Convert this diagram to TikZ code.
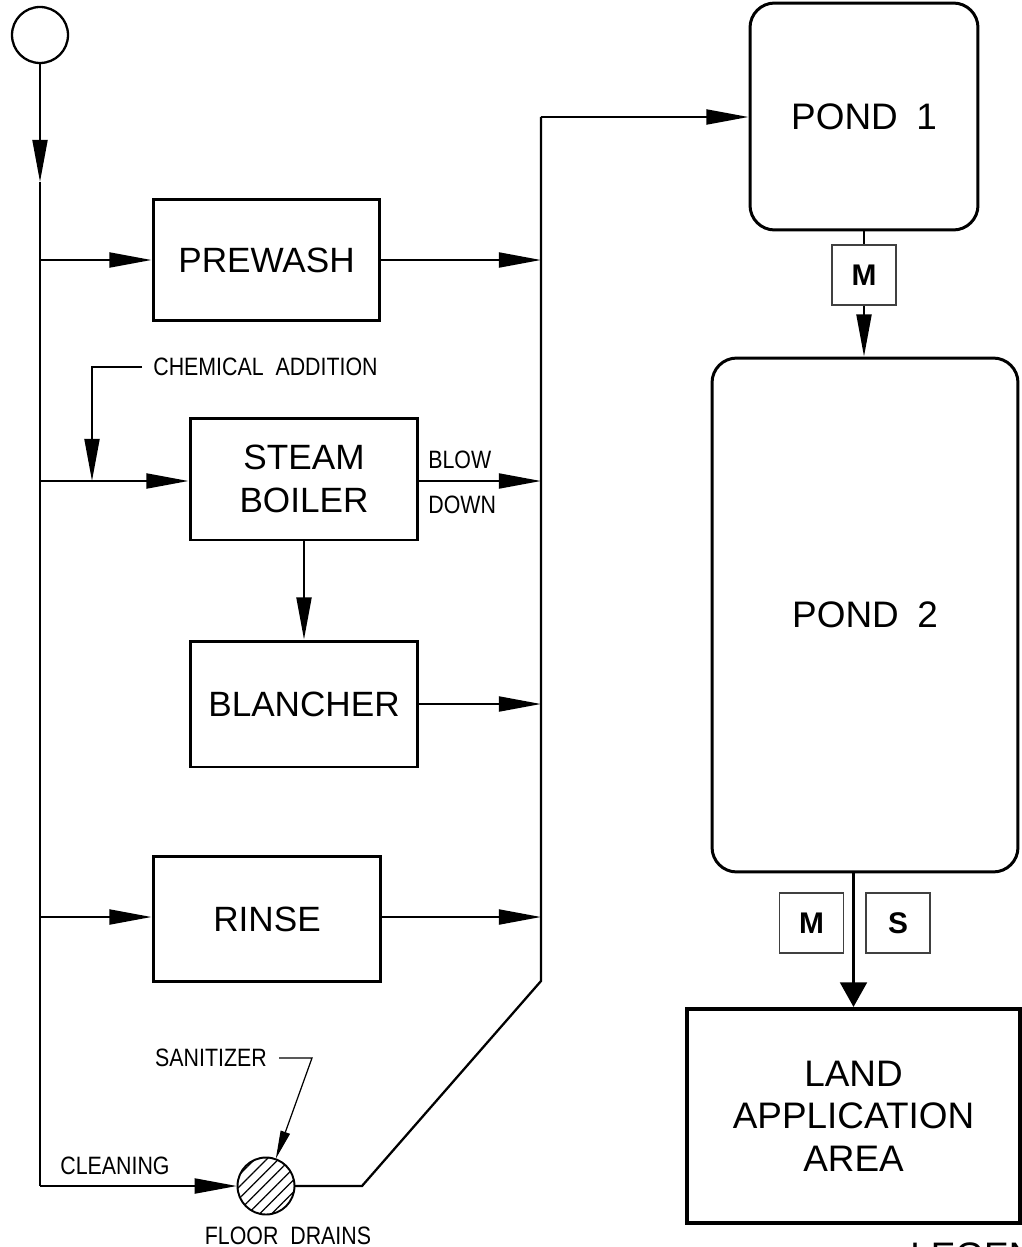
\documentclass[tikz,border=0pt]{standalone}
\usepackage{fontspec}
\setmainfont{Liberation Sans}
\newfontfamily\cadfont[FakeStretch=0.85]{Liberation Sans}
\usetikzlibrary{arrows.meta,patterns.meta,positioning}

\begin{document}
\begin{tikzpicture}[x=0.02cm,y=-0.02cm,
    flow/.style={line width=1.3pt},
    tip/.style={-{Triangle[length=24pt,width=8.5pt]}},
    unit/.style={draw,line width=1.7pt,minimum width=4.56cm,minimum height=2.44cm,
      align=center,font=\fontsize{20}{24.5}\selectfont},
    pond/.style={draw,line width=1.7pt,rounded corners=14pt,font=\fontsize{21}{25}\selectfont},
    tag/.style={draw=black!75,line width=0.6pt,minimum width=1.28cm,minimum height=1.2cm,
      font=\fontsize{17}{20}\selectfont\bfseries},
    note/.style={inner sep=0pt,font=\cadfont\fontsize{14.3}{17}\selectfont}]

  \useasboundingbox (0,0) rectangle (1021,1247);

  % source and trunk
  \node[draw,circle,line width=1.3pt,minimum size=1.12cm,inner sep=0pt] (src) at (40,35) {};
  \coordinate (in) at (40,182);
  \coordinate (b1) at (40,260);
  \coordinate (b2) at (40,481);
  \coordinate (b3) at (40,917);
  \coordinate (corner) at (40,1186);

  % process units
  \node[unit,minimum width=4.54cm,minimum height=2.42cm] (prewash) at (266.5,260) {PREWASH};
  \node[unit] (boiler) at (304,479) {STEAM\\BOILER};
  \node[unit,minimum height=2.52cm] (blancher) at (304,704) {BLANCHER};
  \node[unit,minimum height=2.5cm] (rinse) at (267,919) {RINSE};

  \node[draw,circle,line width=1.1pt,minimum size=1.14cm,inner sep=0pt,
    pattern={Lines[angle=45,distance=4.8pt,line width=0.7pt]}] (drain) at (266,1186) {};

  % labels
  \node[note,anchor=west] (chem) at (153,367) {CHEMICAL\ \ ADDITION};
  \node[note,anchor=base west] (blow) at (428,468) {BLOW};
  \node[note,anchor=base west] (down) at (428,513) {DOWN};
  \node[note] (sanit) at (211,1058) {SANITIZER};
  \node[note] (clean) at (115,1166) {CLEANING};
  \node[note,anchor=north] (drainlbl) at (288,1227) {FLOOR\ \ DRAINS};

  % collector
  \coordinate (c1) at (541,117);
  \coordinate (c2) at (541,981);
  \coordinate (c3) at (362,1186);
  \coordinate (dose) at (92,481);
  \coordinate (sturn) at (312,1058);

  % ponds
  \node[pond,minimum width=4.56cm,minimum height=4.54cm] (pond1) at (864,116.5) {POND\enspace1};
  \node[pond,minimum width=6.12cm,minimum height=10.28cm] (pond2) at (865,615) {POND\enspace2};
  \node[tag] (m1) at (864,275) {M};
  \node[draw,line width=2.3pt,minimum width=6.66cm,minimum height=4.28cm,align=center,
    font=\fontsize{21}{24.2}\selectfont] (land) at (853.5,1116) {LAND\\APPLICATION\\AREA};
  \node[tag] (m2) at (811.5,923) {M};
  \node[tag] (s) at (898,923) {S};
  \node[anchor=north west,inner sep=0pt,font=\fontsize{21}{24}\selectfont] (legend) at (910,1242) {LEGEND};

  % flows
  \draw[flow,tip] (src) -- (in);
  \draw[flow] (in) -- (corner);
  \draw[flow,tip] (corner) -- (drain);
  \draw[flow,tip] (b1) -- (prewash);
  \draw[flow,tip] (b2) -- (b2 -| boiler.west);
  \draw[flow,tip] (b3) -- (b3 -| rinse.west);
  \draw[flow,tip] (prewash) -- (prewash -| c1);
  \draw[flow,tip] (boiler.east |- b2) -- (b2 -| c1);
  \draw[flow,tip] (blancher) -- (blancher -| c1);
  \draw[flow,tip] (rinse.east |- b3) -- (b3 -| c1);
  \draw[flow,tip] (boiler) -- (blancher);
  \draw[flow,tip] ([xshift=-0.22cm]chem.west) -- (chem.west -| dose) -- (dose);
  \draw[line width=0.7pt,-{Triangle[length=16pt,width=5.5pt]}] ([xshift=0.24cm]sanit.east) -- (sturn) -- (drain);

  \draw[flow] (drain) -- (c3) -- (c2) -- (c1);
  \draw[flow,tip] (c1) -- (c1 -| pond1.west);
  \draw[flow] (pond1) -- (m1);
  \draw[flow,tip] (m1) -- (m1 |- pond2.north);
  \draw[line width=2.2pt,-{Triangle[length=14pt,width=15pt]}] (land.north |- pond2.south) -- (land.north);
\end{tikzpicture}
\end{document}
